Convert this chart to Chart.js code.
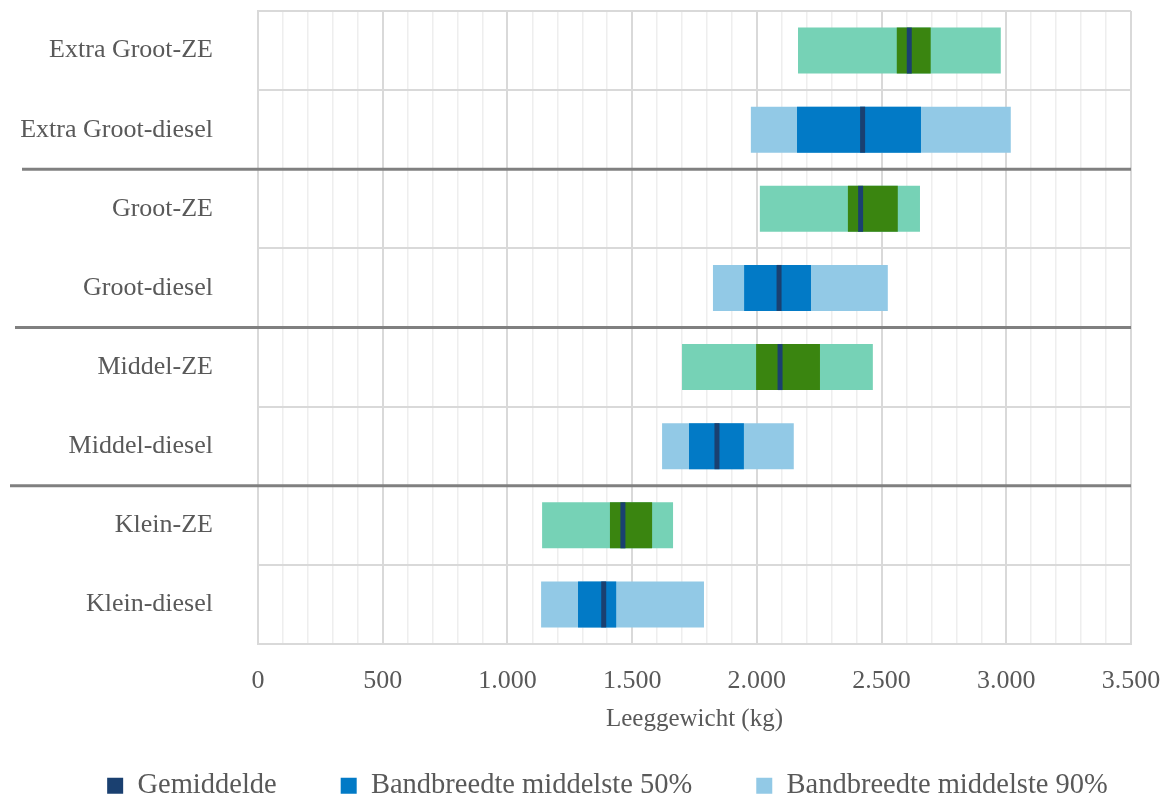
<!DOCTYPE html>
<html>
<head>
<meta charset="utf-8">
<script src="https://cdn.jsdelivr.net/npm/chart.js@4/dist/chart.umd.min.js"></script>
<style>
  html, body { margin: 0; padding: 0; background: #fff; }
</style>
</head>
<body>
<canvas id="chart" width="1169" height="800"></canvas>
<script>
// leeggewicht per categorie (kg)
const categories = ['Extra Groot-ZE', 'Extra Groot-diesel', 'Groot-ZE', 'Groot-diesel', 'Middel-ZE', 'Middel-diesel', 'Klein-ZE', 'Klein-diesel']
const low90 = [2165, 1976, 2012, 1824, 1700, 1620, 1139, 1135]
const high90 = [2978, 3018, 2654, 2525, 2465, 2148, 1664, 1788]
const low50 = [2561, 2161, 2365, 1949, 1997, 1728, 1411, 1283]
const high50 = [2697, 2658, 2565, 2217, 2253, 1948, 1580, 1436]
const gemiddelde = [2611, 2424, 2416, 2089, 2093, 1840, 1463, 1386]
const legendLabels = ['Gemiddelde', 'Bandbreedte middelste 50%', 'Bandbreedte middelste 90%']

const colMean = '#1a4070'
const col50 = { ze: '#3a8510', diesel: '#027ac6' }
const col90 = { ze: '#76d2b6', diesel: '#92c9e6' }
const textCol = '#595959'
const font = "'Liberation Serif', 'Times New Roman', serif"

const isZE = c => c.endsWith('ZE')
const fmt = v => String(v).replace(/\B(?=(\d{3})+(?!\d))/g, '.')

// dikke scheidingslijnen tussen de groepen
const groupLines = {
  id: 'groupLines',
  afterDatasetsDraw(chart, args, opts) {
    const y = chart.scales.y
    const ctx = chart.ctx
    ctx.save()
    ctx.strokeStyle = opts.color
    ctx.lineWidth = opts.width
    opts.after.forEach((idx, k) => {
      const yy = (y.getPixelForValue(idx) + y.getPixelForValue(idx + 1)) / 2
      ctx.beginPath()
      ctx.moveTo(opts.starts[k], yy)
      ctx.lineTo(chart.chartArea.right, yy)
      ctx.stroke()
    })
    ctx.restore()
  }
}

Chart.defaults.font.family = font
Chart.defaults.color = textCol

new Chart(document.getElementById('chart'), {
  type: 'bar',
  data: {
    labels: categories,
    datasets: [
      {
        type: 'line',
        label: legendLabels[0],
        data: gemiddelde,
        showLine: false,
        pointStyle: 'line',
        pointRotation: 90,
        pointRadius: 23,
        pointHoverRadius: 23,
        borderColor: colMean,
        backgroundColor: colMean,
        pointBorderWidth: 5,
        borderWidth: 5
      },
      {
        label: legendLabels[1],
        data: categories.map((c, i) => [low50[i], high50[i]]),
        backgroundColor: categories.map(c => isZE(c) ? col50.ze : col50.diesel)
      },
      {
        label: legendLabels[2],
        data: categories.map((c, i) => [low90[i], high90[i]]),
        backgroundColor: categories.map(c => isZE(c) ? col90.ze : col90.diesel)
      }
    ]
  },
  options: {
    responsive: false,
    animation: false,
    indexAxis: 'y',
    grouped: false,
    barPercentage: 0.58,
    categoryPercentage: 1,
    layout: { autoPadding: false, padding: { top: 11, right: -46, bottom: -10, left: 0 } },
    scales: {
      x: {
        type: 'linear',
        min: 0,
        max: 3500,
        ticks: {
          stepSize: 100,
          autoSkip: false,
          maxRotation: 0,
          padding: 22,
          font: { size: 26 },
          color: textCol,
          callback: v => v % 500 === 0 ? fmt(v) : ''
        },
        grid: {
          drawTicks: false,
          color: c => c.tick && c.tick.value % 500 === 0 ? '#d9d9d9' : '#eeeeee',
          lineWidth: c => c.tick && c.tick.value % 500 === 0 ? 2 : 1.5
        },
        border: { color: '#d9d9d9', width: 2 },
        title: {
          display: true,
          text: 'Leeggewicht (kg)',
          font: { size: 25 },
          color: textCol,
          padding: { top: 0, bottom: -26.5 }
        },
        afterFit: s => { s.height = 63.5; s.paddingLeft = 0; s.paddingRight = 0 }
      },
      y: {
        type: 'category',
        ticks: { font: { size: 26 }, color: textCol, padding: 45 },
        grid: { drawTicks: false, color: '#d9d9d9', lineWidth: 2 },
        border: { color: '#d9d9d9', width: 2 },
        afterFit: s => { s.width = 258; s.paddingTop = 0; s.paddingBottom = 0 }
      },
      yRight: {
        type: 'category',
        position: 'right',
        ticks: { display: false },
        grid: { display: false },
        border: { display: false },
        afterFit: s => { s.width = 84; s.paddingTop = 0; s.paddingBottom = 0 }
      }
    },
    plugins: {
      tooltip: { enabled: false },
      legend: {
        position: 'bottom',
        labels: {
          boxWidth: 16,
          boxHeight: 16,
          padding: 64,
          font: { size: 28.5 },
          color: textCol,
          generateLabels: () => [colMean, col50.diesel, col90.diesel].map((c, i) => ({
            text: legendLabels[i],
            fillStyle: c,
            strokeStyle: c,
            lineWidth: 0,
            fontColor: textCol,
            datasetIndex: i
          }))
        }
      },
      groupLines: { after: [1, 3, 5], starts: [22, 15, 10], color: '#808080', width: 3 }
    }
  },
  plugins: [groupLines]
})
</script>
</body>
</html>
